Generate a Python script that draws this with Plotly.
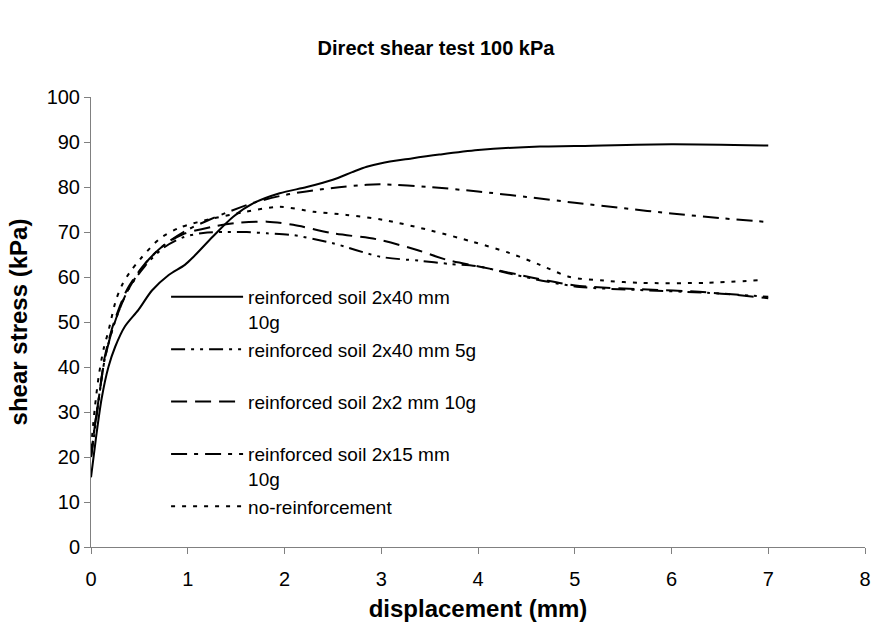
import plotly.graph_objects as go

# ---- data ----
names = [
    "reinforced soil 2x40 mm<br>10g",
    "reinforced soil 2x40 mm 5g<br> ",
    "reinforced soil 2x2 mm 10g<br> ",
    "reinforced soil 2x15 mm<br>10g",
    "no-reinforcement<br> ",
]

d_solid = [0, 0.05, 0.11, 0.18, 0.25, 0.35, 0.49, 0.63, 0.8, 0.97, 1.06, 1.26, 1.47, 1.68, 1.95,
           2.23, 2.5, 2.7, 2.85, 3.0, 3.3, 3.6, 4.0, 4.64, 5.0, 6.0, 7.0]
v_solid = [15.5, 24, 33, 40, 44.5, 49, 52.7, 57, 60.4, 62.7, 64.5, 69, 73.4, 76.4, 78.6,
           80, 81.6, 83.3, 84.5, 85.3, 86.3, 87.2, 88.2, 89, 89.1, 89.5, 89.2]

d_5g = [0, 0.04, 0.08, 0.14, 0.21, 0.28, 0.38, 0.56, 0.75, 0.95, 1.16, 1.4, 1.61, 1.82, 2.09,
        2.5, 2.99, 3.4, 3.71, 3.99, 4.4, 4.71, 5.05, 5.67, 6.36, 7.0]
v_5g = [20, 26, 32.7, 41.6, 47.5, 52, 57, 62.5, 66.5, 68.8, 69.8, 70, 70, 69.7, 69.3,
        67.5, 64.5, 63.6, 62.9, 62.4, 60.4, 59, 57.8, 57.1, 56.5, 55.6]

d_2x2 = [0, 0.04, 0.08, 0.14, 0.21, 0.28, 0.38, 0.56, 0.75, 0.95, 1.26, 1.5, 1.82, 2.09, 2.5,
         2.95, 3.37, 3.68, 4.02, 4.4, 4.71, 5.05, 5.67, 6.36, 7.0]
v_2x2 = [20, 27, 33, 42, 48, 52.5, 57.5, 63, 67, 69.5, 71.2, 72, 72.3, 71.6, 69.7,
         68.4, 66, 63.8, 62.3, 60.6, 59.2, 58, 57.3, 56.6, 55.3]

d_2x15 = [0, 0.04, 0.08, 0.14, 0.21, 0.28, 0.38, 0.56, 0.75, 1.0, 1.2, 1.4, 1.68, 2.02, 2.5,
          2.85, 3.0, 3.5, 4.0, 4.5, 5.0, 5.5, 6.0, 6.5, 7.0]
v_2x15 = [20, 27, 33, 41.5, 47.5, 52, 57, 63, 67, 70.5, 72.5, 74.3, 76.5, 78.3, 79.8,
          80.5, 80.6, 80, 79, 77.8, 76.5, 75.3, 74.1, 73.1, 72.2]

d_none = [0, 0.04, 0.08, 0.13, 0.18, 0.26, 0.33, 0.4, 0.51, 0.71, 0.92, 1.26, 1.6, 1.95, 2.3,
          2.64, 3.02, 3.5, 3.95, 4.33, 4.64, 4.95, 5.3, 5.67, 6.36, 6.91]
v_none = [22, 31, 38, 44, 48, 55, 58.6, 61, 64, 68.5, 71, 73, 74.5, 75.6, 74.5,
          73.8, 72.7, 70.4, 67.8, 65.3, 62.7, 60, 59.2, 58.7, 58.7, 59.3]

x_ticks = [0, 1, 2, 3, 4, 5, 6, 7, 8]
y_ticks = [0, 10, 20, 30, 40, 50, 60, 70, 80, 90, 100]

series = [
    (names[0], d_solid, v_solid, "solid"),
    (names[1], d_5g, v_5g, "14px,6px,3px,6px,3px,6px"),
    (names[2], d_2x2, v_2x2, "16px,8px"),
    (names[3], d_2x15, v_2x15, "16px,7px,4px,7px"),
    (names[4], d_none, v_none, "4px,7px"),
]

FONT = "Liberation Sans, Arial, sans-serif"

fig = go.Figure()
for i, (nm, xs, ys, dash) in enumerate(series):
    fig.add_trace(go.Scatter(
        x=xs, y=ys, name=nm, mode="lines", legendgroup=f"g{i}",
        line=dict(color="black", width=2, dash=dash, shape="spline", smoothing=0.8),
    ))

fig.update_layout(
    width=872, height=622,
    paper_bgcolor="white", plot_bgcolor="white",
    margin=dict(l=91, r=7, t=97, b=75, autoexpand=False),
    font=dict(family=FONT, size=20, color="black"),
    title=dict(text="<b>Direct shear test 100 kPa</b>", x=0.5, xref="container",
               y=1 - 48 / 622, yref="container", yanchor="middle", xanchor="center",
               font=dict(size=20)),
    showlegend=True,
    legend=dict(x=0.097, y=0.598, xanchor="left", yanchor="top", bgcolor="rgba(0,0,0,0)",
                valign="top", tracegroupgap=0, font=dict(size=19), itemwidth=72),
)
fig.update_xaxes(range=[0, 8], tickvals=x_ticks, ticks="outside", ticklen=6, tickcolor="#808080",
                 ticklabelstandoff=8, automargin=False,
                 showline=True, linecolor="#808080", linewidth=1, showgrid=False, zeroline=False,
                 title=dict(text="<b>displacement (mm)</b>", standoff=11))
fig.update_yaxes(range=[0, 100], tickvals=y_ticks, ticks="outside", ticklen=6, tickcolor="#808080",
                 automargin=False,
                 showline=True, linecolor="#808080", linewidth=1, showgrid=False, zeroline=False,
                 title=dict(text="<b>shear stress (kPa)</b>", standoff=12))

fig.write_html("out.html", config={"displayModeBar": False},
               post_script="document.body.style.margin='0';document.body.style.overflow='hidden';")
